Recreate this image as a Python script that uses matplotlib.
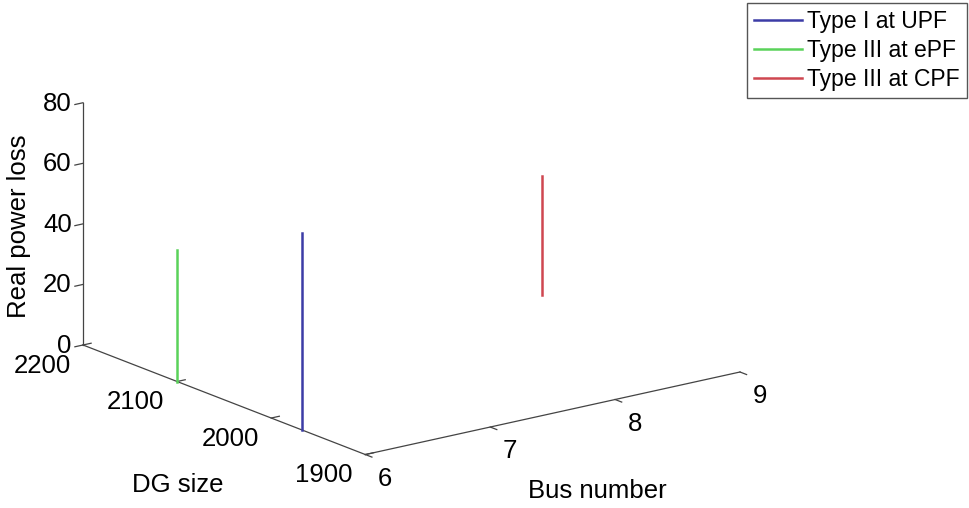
import numpy as np
import matplotlib
matplotlib.use("Agg")
import matplotlib.pyplot as plt
from mpl_toolkits.mplot3d import proj3d

plt.rcParams['font.family'] = ['Liberation Sans', 'DejaVu Sans']

# данные
labels = ["Type I at UPF", "Type III at ePF", "Type III at CPF"]
colors = ["#3c3ca6", "#5ad25a", "#cf4650"]
bus_no = [6, 6, 9]
dg_size = [1967, 2100, 2110]
loss_low = [0, 0, 0]
loss_high = [65, 43.5, 39.5]

bus_ticks = [6, 7, 8, 9]
dg_ticks = [1900, 2000, 2100, 2200]
loss_ticks = [0, 20, 40, 60, 80]

W, H = 969, 508
FS = 18.5
fig = plt.figure(figsize=(W / 100, H / 100), dpi=100)
ax = fig.add_axes([-0.5, -0.8, 2.0, 2.6], projection='3d', proj_type='ortho')
ax.view_init(elev=17, azim=-127)
ax.set_xlim(6, 9)
ax.set_ylim(1900, 2200)
ax.set_zlim(0, 80)
ax.set_box_aspect((1, 1, 0.54))
ax.set_axis_off()

axis_kw = dict(color="#444444", linewidth=0.9)

# оси как в MATLAB
ax.plot([6, 9], [1900, 1900], [0, 0], **axis_kw)
ax.plot([6, 6], [1900, 2200], [0, 0], **axis_kw)
ax.plot([6, 6], [2200, 2200], [0, 80], **axis_kw)

for b in bus_ticks:
    ax.plot([b, b], [1900, 1893], [0, 0], **axis_kw)
    ax.text(b, 1900 - 21, -5.5, str(b), ha='center', va='center', fontsize=FS)
for d in dg_ticks:
    ax.plot([6, 6.065], [d, d], [0, 0], **axis_kw)
    ax.text(6 - 0.1, d, -6, str(d), ha='right', va='center', fontsize=FS)
for z in loss_ticks:
    ax.plot([6, 5.935], [2200, 2200], [z, z], **axis_kw)
    ax.text(6 - 0.09, 2200, z + 0.5, str(z), ha='right', va='center', fontsize=FS)

handles = []
for i in range(len(labels)):
    h, = ax.plot([bus_no[i], bus_no[i]], [dg_size[i], dg_size[i]],
                 [loss_low[i], loss_high[i]], color=colors[i], linewidth=1.8)
    handles.append(h)


def to_px(x, y, z):
    xs, ys, _ = proj3d.proj_transform(x, y, z, ax.get_proj())
    return ax.transData.transform((xs, ys))


# подгонка масштаба и положения под исходную картинку
fig.canvas.draw()
p0 = to_px(6, 2200, 0)
p1 = to_px(9, 1900, 0)
zoom = (740 - 83) / (p1[0] - p0[0])
ax.set_box_aspect((1, 1, 0.54), zoom=zoom)
fig.canvas.draw()
p0 = to_px(6, 2200, 0)
dx = 83 - p0[0]
dy = (H - 345) - p0[1]
pos = ax.get_position(original=True)
ax.set_position([pos.x0 + dx / W, pos.y0 + dy / H, pos.width, pos.height])

fig.text(19 / W, 1 - 226 / H, "Real power loss", rotation=90,
         ha='center', va='center', fontsize=FS)
fig.text(178 / W, 1 - 485 / H, "DG size", ha='center', va='center', fontsize=FS)
fig.text(597 / W, 1 - 491 / H, "Bus number", ha='center', va='center', fontsize=FS)

leg = fig.legend(handles, labels, loc='upper right',
                 bbox_to_anchor=(967 / W, 1 - 3 / H), fontsize=16.5,
                 frameon=True, fancybox=False, framealpha=1,
                 handlelength=2.1, handletextpad=0.22, borderpad=0.3,
                 labelspacing=0.27, borderaxespad=0)
leg.get_frame().set_edgecolor("#555555")
leg.get_frame().set_linewidth(1.0)

fig.savefig("out.png", dpi=100)
